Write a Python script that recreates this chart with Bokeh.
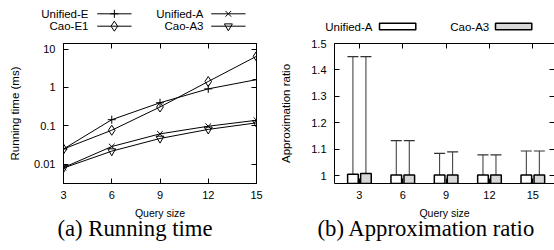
from bokeh.plotting import figure
from bokeh.models import (ColumnDataSource, Range1d, LinearAxis, FixedTicker, Title, Whisker, TeeHead)
from bokeh.core.properties import value
from bokeh.layouts import row, column
from bokeh.transform import dodge
from bokeh.embed import file_html
from bokeh.resources import INLINE

# ---------------- data ----------------
query_sizes = [3, 6, 9, 12, 15]
unified_e = [0.025, 0.145, 0.40, 0.92, 1.6]
cao_e1 = [0.025, 0.077, 0.31, 1.43, 6.5]
unified_a_time = [0.0082, 0.029, 0.062, 0.098, 0.14]
cao_a3_time = [0.008, 0.022, 0.047, 0.081, 0.12]
time_series_names = ["Unified-E", "Cao-E1", "Unified-A", "Cao-A3"]

time_ticks = [0.01, 0.1, 1, 10]
time_tick_labels = ["0.01", "0.1", "1", "10"]

ratio_categories = ["3", "6", "9", "12", "15"]
unified_a_ratio = [1.005, 1.002, 1.002, 1.002, 1.002]
unified_a_max = [1.45, 1.132, 1.084, 1.078, 1.093]
cao_a3_ratio = [1.008, 1.002, 1.002, 1.002, 1.002]
cao_a3_max = [1.45, 1.132, 1.09, 1.078, 1.093]
ratio_series_names = ["Unified-A", "Cao-A3"]

ratio_ticks = [1.0, 1.1, 1.2, 1.3, 1.4, 1.5]
ratio_tick_labels = ["1", "1.1", "1.2", "1.3", "1.4", "1.5"]

# ---------------- styling / layout ----------------
SANS = "Liberation Sans"
SERIF = "Liberation Serif"
TICK_FS = "11px"
LABEL_FS = "10.5px"
YLABEL_FS = "11.5px"
LEG_FS = "11.5px"
CAP_FS = "22.7px"

PANEL_W = 277
TOTAL_W = 2 * PANEL_W
TOTAL_H = 250
LEG_H = 35  # legend strip above both panels


def style_axis(ax, ticks=None, show_labels=True, show_line=True):
    ax.major_tick_in = 5
    ax.major_tick_out = 0
    ax.minor_tick_line_color = None
    ax.major_tick_line_color = "black"
    ax.axis_line_color = "black" if show_line else None
    ax.major_label_text_font = SANS
    ax.major_label_text_font_size = TICK_FS
    ax.major_label_text_color = "black"
    ax.axis_label_text_font = SANS
    ax.axis_label_text_font_size = LABEL_FS
    ax.axis_label_text_font_style = "normal"
    ax.axis_label_text_color = "black"
    if not show_labels:
        ax.major_label_overrides = {t: "" for t in ticks}
        ax.major_label_text_font_size = "1px"
        ax.major_label_standoff = 0


# legend strip spanning both panels (pixel coordinates, y downward)
strip = figure(width=TOTAL_W, height=LEG_H, x_range=Range1d(0, TOTAL_W), y_range=Range1d(LEG_H, 0),
               x_axis_location=None, y_axis_location=None,
               output_backend="svg", toolbar_location=None,
               min_border_left=0, min_border_right=0, min_border_top=0, min_border_bottom=0)
strip.grid.visible = False
strip.outline_line_color = None


def legend_text(xs, ys, names):
    strip.text(x=xs, y=ys, text=names, text_align="right", text_baseline="middle",
               text_font=value(SANS), text_font_size=value(LEG_FS), text_color="black")


# ---------------- (a) running time ----------------
src_t = ColumnDataSource(dict(q=query_sizes, ue=unified_e, ce=cao_e1,
                              ua=unified_a_time, ca=cao_a3_time))

p1 = figure(width=PANEL_W, height=TOTAL_H - LEG_H, y_axis_type="log",
            x_range=Range1d(3, 15), y_range=Range1d(10 ** -2.5, 10 ** 1.145),
            output_backend="svg", toolbar_location=None,
            min_border_left=63, min_border_right=21, min_border_top=43 - LEG_H, min_border_bottom=67)
p1.grid.visible = False
p1.outline_line_color = "black"

p1.xaxis.ticker = FixedTicker(ticks=query_sizes)
p1.yaxis.ticker = FixedTicker(ticks=time_ticks)
p1.yaxis.major_label_overrides = dict(zip(time_ticks, time_tick_labels))
p1.xaxis.axis_label = "Query size"
p1.yaxis.axis_label = "Running time (ms)"
style_axis(p1.xaxis[0])
style_axis(p1.yaxis[0])
p1.yaxis.axis_label_text_font_size = YLABEL_FS
p1.xaxis.major_label_standoff = 7
p1.xaxis.axis_label_standoff = 5
p1.yaxis.major_label_standoff = 8
p1.yaxis.axis_label_standoff = 10

top1 = LinearAxis(ticker=FixedTicker(ticks=query_sizes))
style_axis(top1, query_sizes, show_labels=False)
p1.add_layout(top1, "above")
right1 = LinearAxis(ticker=FixedTicker(ticks=time_ticks))
style_axis(right1, time_ticks, show_labels=False)
p1.add_layout(right1, "right")

KEYS = ["ue", "ce", "ua", "ca"]
STYLES = {
    "ue": dict(marker="cross", size=8, fill_color=None),
    "ce": dict(marker="diamond", size=10, fill_color=None),
    "ua": dict(marker="x", size=8, fill_color=None),
    "ca": dict(marker="inverted_triangle", size=8, fill_color=None),
}
for key in KEYS:
    p1.line("q", key, source=src_t, color="black", line_width=1)
    p1.scatter("q", key, source=src_t, line_color="black", line_width=1, **STYLES[key])

# key (a): text right-aligned, then a line sample with the marker
key_text_right = [88, 88, 203, 203]
key_y = [13.3, 25.7, 13.3, 25.7]
key_x0 = [96.7, 96.7, 210.7, 210.7]
key_len = 34.3
legend_text(key_text_right, key_y, time_series_names)
strip.segment(x0=key_x0, y0=key_y, x1=[x + key_len for x in key_x0], y1=key_y,
              color="black", line_width=1)
for i, key in enumerate(KEYS):
    strip.scatter(x=[key_x0[i] + key_len / 2], y=[key_y[i]], line_color="black", line_width=1,
                  **STYLES[key])

p1.add_layout(Title(text="(a) Running time", text_font=SERIF, text_font_size=CAP_FS,
                    text_color="black", text_font_style="normal", align="left",
                    offset=-6, standoff=-16), "below")

# ---------------- (b) approximation ratio ----------------
idx = list(range(len(ratio_categories)))
src_r = ColumnDataSource(dict(i=idx, ua=unified_a_ratio, uam=unified_a_max,
                              ca=cao_a3_ratio, cam=cao_a3_max))

p2 = figure(width=PANEL_W, height=TOTAL_H - LEG_H,
            x_range=Range1d(-0.575, 4.5), y_range=Range1d(0.97, 1.5),
            output_backend="svg", toolbar_location=None,
            min_border_left=54, min_border_right=0, min_border_top=41 - LEG_H, min_border_bottom=64)
p2.grid.visible = False
p2.outline_line_color = None

p2.xaxis.ticker = FixedTicker(ticks=idx)
p2.xaxis.major_label_overrides = dict(zip(idx, ratio_categories))
p2.yaxis.ticker = FixedTicker(ticks=ratio_ticks)
p2.yaxis.major_label_overrides = dict(zip(ratio_ticks, ratio_tick_labels))
p2.xaxis.axis_label = "Query size"
p2.yaxis.axis_label = "Approximation ratio"
style_axis(p2.xaxis[0])
style_axis(p2.yaxis[0])
p2.yaxis.axis_label_text_font_size = YLABEL_FS
p2.xaxis.major_label_standoff = 7
p2.xaxis.axis_label_standoff = 5
p2.yaxis.major_label_standoff = 8
p2.yaxis.axis_label_standoff = 16

top2 = LinearAxis(ticker=FixedTicker(ticks=idx))
style_axis(top2, idx, show_labels=False)
p2.add_layout(top2, "above")
right2 = LinearAxis(ticker=FixedTicker(ticks=ratio_ticks))
style_axis(right2, ratio_ticks, show_labels=False, show_line=False)
p2.add_layout(right2, "right")

bw = 0.245
off = 0.15
BAR_FILLS = ["white", "#d8d8d8"]
p2.vbar(x=dodge("i", -off, range=p2.x_range), top="ua", bottom=0, width=bw, source=src_r,
        line_color="black", line_width=1.5, fill_color=BAR_FILLS[0])
p2.vbar(x=dodge("i", off, range=p2.x_range), top="ca", bottom=0, width=bw, source=src_r,
        line_color="black", line_width=1.5, fill_color=BAR_FILLS[1])

for o, lo, hi in ((-off, "ua", "uam"), (off, "ca", "cam")):
    w = Whisker(source=src_r, base=dodge("i", o, range=p2.x_range), lower=lo, upper=hi,
                dimension="height", line_color="#333333", line_width=1,
                upper_head=TeeHead(size=11, line_color="#333333", line_width=1.2),
                lower_head=None, level="underlay")
    p2.add_layout(w)

# key (b): text right-aligned, then a box sample
box_text_right = [PANEL_W + 95, PANEL_W + 211.7]
box_y = [26, 26]
box_left = [PANEL_W + 102, PANEL_W + 218]
box_w, box_h = 36.3, 6.6
legend_text(box_text_right, box_y, ratio_series_names)
strip.quad(left=box_left, right=[x + box_w for x in box_left],
           top=[y - box_h / 2 for y in box_y], bottom=[y + box_h / 2 for y in box_y],
           fill_color=BAR_FILLS, line_color="black", line_width=1.5)

p2.add_layout(Title(text="(b) Approximation ratio", text_font=SERIF, text_font_size=CAP_FS,
                    text_color="black", text_font_style="normal", align="left",
                    offset=-17, standoff=-16), "below")

layout = column(strip, row(p1, p2, spacing=0), spacing=0)
open("out.html", "w").write(file_html(layout, INLINE))
